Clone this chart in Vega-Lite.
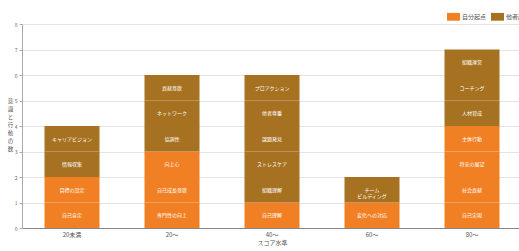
{
  "$schema": "https://vega.github.io/schema/vega-lite/v6.json",
  "width": 500,
  "height": 204,
  "autosize": {"type": "none"},
  "padding": {"left": 22, "top": 24, "right": 0, "bottom": 23},
  "background": "white",
  "config": {
    "font": "Noto Sans CJK JP",
    "view": {"stroke": null}
  },
  "data": {
    "values": [
      {"score": "20未満", "type": "自分起点", "label": "自己肯定", "ord": 1, "n": 1},
      {"score": "20未満", "type": "自分起点", "label": "目標の設定", "ord": 2, "n": 1},
      {"score": "20未満", "type": "他者起点", "label": "情報収集", "ord": 3, "n": 1},
      {"score": "20未満", "type": "他者起点", "label": "キャリアビジョン", "ord": 4, "n": 1},
      {"score": "20〜", "type": "自分起点", "label": "専門性の向上", "ord": 1, "n": 1},
      {"score": "20〜", "type": "自分起点", "label": "自己成長意欲", "ord": 2, "n": 1},
      {"score": "20〜", "type": "自分起点", "label": "向上心", "ord": 3, "n": 1},
      {"score": "20〜", "type": "他者起点", "label": "協調性", "ord": 4, "n": 1},
      {"score": "20〜", "type": "他者起点", "label": "ネットワーク", "ord": 5, "n": 1},
      {"score": "20〜", "type": "他者起点", "label": "貢献意欲", "ord": 6, "n": 1},
      {"score": "40〜", "type": "自分起点", "label": "自己理解", "ord": 1, "n": 1},
      {"score": "40〜", "type": "他者起点", "label": "組織理解", "ord": 2, "n": 1},
      {"score": "40〜", "type": "他者起点", "label": "ストレスケア", "ord": 3, "n": 1},
      {"score": "40〜", "type": "他者起点", "label": "課題発見", "ord": 4, "n": 1},
      {"score": "40〜", "type": "他者起点", "label": "他者尊重", "ord": 5, "n": 1},
      {"score": "40〜", "type": "他者起点", "label": "プロアクション", "ord": 6, "n": 1},
      {"score": "60〜", "type": "自分起点", "label": "変化への対応", "ord": 1, "n": 1},
      {"score": "60〜", "type": "他者起点", "label": "チーム\nビルディング", "ord": 2, "n": 1},
      {"score": "80〜", "type": "自分起点", "label": "自己実現", "ord": 1, "n": 1},
      {"score": "80〜", "type": "自分起点", "label": "社会貢献", "ord": 2, "n": 1},
      {"score": "80〜", "type": "自分起点", "label": "将来の展望", "ord": 3, "n": 1},
      {"score": "80〜", "type": "自分起点", "label": "主体行動", "ord": 4, "n": 1},
      {"score": "80〜", "type": "他者起点", "label": "人材育成", "ord": 5, "n": 1},
      {"score": "80〜", "type": "他者起点", "label": "コーチング", "ord": 6, "n": 1},
      {"score": "80〜", "type": "他者起点", "label": "組織運営", "ord": 7, "n": 1}
    ]
  },
  "encoding": {
    "x": {
      "field": "score",
      "type": "nominal",
      "sort": ["20未満", "20〜", "40〜", "60〜", "80〜"],
      "scale": {"paddingInner": 0.45, "paddingOuter": 0.225},
      "axis": {
        "title": "スコア水準",
        "titleFontSize": 6,
        "titleFontWeight": "normal",
        "titleColor": "#555",
        "titlePadding": 2,
        "labelAngle": 0,
        "labelFontSize": 6,
        "labelColor": "#555",
        "labelPadding": 3,
        "domainColor": "#888",
        "ticks": false
      }
    },
    "y": {
      "field": "n",
      "type": "quantitative",
      "aggregate": "sum",
      "stack": "zero",
      "scale": {"domain": [0, 8], "nice": false},
      "axis": {
        "title": ["意", "識", "と", "行", "動", "の", "数"],
        "titleAngle": 0,
        "titleFontSize": 5.5,
        "titleFontWeight": "normal",
        "titleColor": "#555",
        "titleLineHeight": 8,
        "titleX": -12,
        "titleY": 74,
        "titleAlign": "center",
        "titleBaseline": "top",
        "values": [0, 1, 2, 3, 4, 5, 6, 7, 8],
        "labelFontSize": 5,
        "labelColor": "#666",
        "labelPadding": 2,
        "tickSize": 3,
        "tickColor": "#aaa",
        "domainColor": "#aaa",
        "gridColor": "#e4e4e4"
      }
    },
    "order": {"field": "ord", "type": "quantitative"}
  },
  "layer": [
    {
      "mark": {"type": "bar", "stroke": null},
      "encoding": {
        "color": {
          "field": "type",
          "type": "nominal",
          "scale": {"domain": ["自分起点", "他者起点"], "range": ["#F18024", "#A67120"]},
          "legend": {
            "title": null,
            "orient": "none",
            "direction": "horizontal",
            "legendX": 425,
            "legendY": -14,
            "symbolType": "M-1,-0.6L1,-0.6L1,0.6L-1,0.6Z",
            "symbolSize": 169,
            "symbolStrokeWidth": 0,
            "symbolOpacity": 1,
            "labelFontSize": 6,
            "labelColor": "#555",
            "labelOffset": 2,
            "columnPadding": 4
          }
        }
      }
    },
    {
      "mark": {
        "type": "text",
        "color": "white",
        "fontSize": 5,
        "baseline": "middle",
        "dy": 12.75,
        "lineBreak": "\n",
        "lineHeight": 6
      },
      "encoding": {
        "text": {"field": "label"}
      }
    }
  ]
}
